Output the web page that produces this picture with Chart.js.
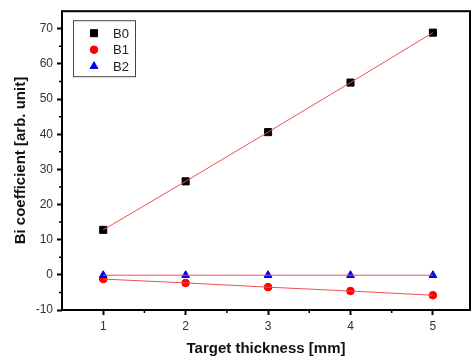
<!DOCTYPE html>
<html>
<head>
<meta charset="utf-8">
<script src="https://cdn.jsdelivr.net/npm/chart.js@4.4.1/dist/chart.umd.min.js"></script>
<style>
  html, body { margin: 0; padding: 0; background: #fff; }
  #wrap { width: 476px; height: 363px; position: relative; }
</style>
</head>
<body>
<div id="wrap"><canvas id="chart"></canvas></div>
<script>
// Data
const thickness = [1, 2, 3, 4, 5];
const b0Values = [12.8, 26.6, 40.6, 54.7, 68.9];
const b1Values = [-1.2, -2.3, -3.5, -4.6, -5.8];
const b2Values = [-0.1, -0.1, -0.1, -0.1, -0.1];
const seriesLabels = ['B0', 'B1', 'B2'];
const xTicks = [1, 2, 3, 4, 5];
const yTicks = [-10, 0, 10, 20, 30, 40, 50, 60, 70];
const xMinor = [1.5, 2.5, 3.5, 4.5];
const yMinor = [-5, 5, 15, 25, 35, 45, 55, 65];

const FONT = 'Arial, "Liberation Sans", sans-serif';
const fitColor = '#f05050';

function toPoints(values) {
  return thickness.map((t, i) => ({ x: t, y: values[i] }));
}

// marker-only dataset
function makeMarkers(label, values, style, color, radius, order) {
  return {
    label: label,
    data: toPoints(values),
    showLine: false,
    order: order,
    pointStyle: style,
    pointRadius: radius,
    pointBackgroundColor: color,
    pointBorderColor: color,
    pointBorderWidth: 1,
    isMarker: true
  };
}

// thin red fit line drawn over the markers
function makeFit(values) {
  return {
    label: '',
    data: toPoints(values),
    showLine: true,
    order: 0,
    borderColor: fitColor,
    borderWidth: 1,
    pointRadius: 0
  };
}

// Box frame, minor ticks and in-plot legend
const framePlugin = {
  id: 'frame',
  afterDraw(chart) {
    const ctx = chart.ctx;
    const a = chart.chartArea;
    const xs = chart.scales.x, ys = chart.scales.y;
    ctx.save();
    ctx.strokeStyle = '#000';
    ctx.lineWidth = 2;
    ctx.strokeRect(a.left, a.top, a.right - a.left, a.bottom - a.top);

    ctx.lineWidth = 1.5;
    ctx.beginPath();
    xMinor.forEach(v => {
      const px = xs.getPixelForValue(v);
      ctx.moveTo(px, a.bottom);
      ctx.lineTo(px, a.bottom + 3);
    });
    yMinor.forEach(v => {
      const py = ys.getPixelForValue(v);
      ctx.moveTo(a.left - 3, py);
      ctx.lineTo(a.left, py);
    });
    ctx.stroke();

    // legend box
    const lx = a.left + 11, ly = a.top + 9;
    ctx.lineWidth = 1;
    ctx.strokeStyle = '#444';
    ctx.strokeRect(lx + 0.5, ly + 0.5, 62, 56);
    ctx.font = '13px ' + FONT;
    ctx.textBaseline = 'middle';
    const markers = chart.data.datasets.filter(ds => ds.isMarker);
    markers.forEach((ds, i) => {
      const rowY = ly + 13 + i * 16.5;
      ctx.fillStyle = ds.pointBackgroundColor;
      ctx.strokeStyle = ds.pointBorderColor;
      Chart.helpers.drawPoint(ctx, {
        pointStyle: ds.pointStyle, radius: ds.pointRadius, rotation: 0, borderWidth: 1
      }, lx + 21, rowY);
      ctx.fillStyle = '#222';
      ctx.fillText(ds.label, lx + 40, rowY + 1);
    });
    ctx.restore();
  }
};

const ctx = document.getElementById('chart').getContext('2d');
new Chart(ctx, {
  type: 'scatter',
  data: {
    datasets: [
      makeMarkers(seriesLabels[0], b0Values, 'rect', '#000000', 5, 3),
      makeMarkers(seriesLabels[1], b1Values, 'circle', '#ff0000', 3.8, 2),
      makeMarkers(seriesLabels[2], b2Values, 'triangle', '#0000ee', 4.5, 1),
      makeFit(b0Values),
      makeFit(b1Values),
      makeFit(b2Values)
    ]
  },
  options: {
    responsive: true,
    maintainAspectRatio: false,
    animation: false,
    layout: { padding: { left: 0, top: 4, right: 4, bottom: 0 } },
    plugins: {
      legend: { display: false },
      tooltip: { enabled: false }
    },
    scales: {
      x: {
        type: 'linear',
        min: 0.5,
        max: 5.45,
        afterBuildTicks: s => { s.ticks = xTicks.map(v => ({ value: v })); },
        afterFit: s => { s.height = 53; },
        border: { display: false },
        grid: { drawOnChartArea: false, drawTicks: true, tickLength: 5, tickColor: '#000', tickWidth: 2 },
        ticks: { color: '#333', font: { family: FONT, size: 12 }, padding: 4 },
        title: {
          display: true,
          text: 'Target thickness [mm]',
          color: '#111',
          font: { family: FONT, size: 15, weight: 'bold' },
          padding: { top: 0, bottom: 5 }
        }
      },
      y: {
        type: 'linear',
        min: -10,
        max: 75,
        afterBuildTicks: s => { s.ticks = yTicks.map(v => ({ value: v })); },
        afterFit: s => { s.width = 62; },
        border: { display: false },
        grid: { drawOnChartArea: false, drawTicks: true, tickLength: 5, tickColor: '#000', tickWidth: 2 },
        ticks: { color: '#333', font: { family: FONT, size: 12 }, padding: 4 },
        title: {
          display: true,
          text: 'Bi coefficient [arb. unit]',
          color: '#111',
          font: { family: FONT, size: 15, weight: 'bold' },
          padding: { top: 12, bottom: 0 }
        }
      }
    }
  },
  plugins: [framePlugin]
});
</script>
</body>
</html>
